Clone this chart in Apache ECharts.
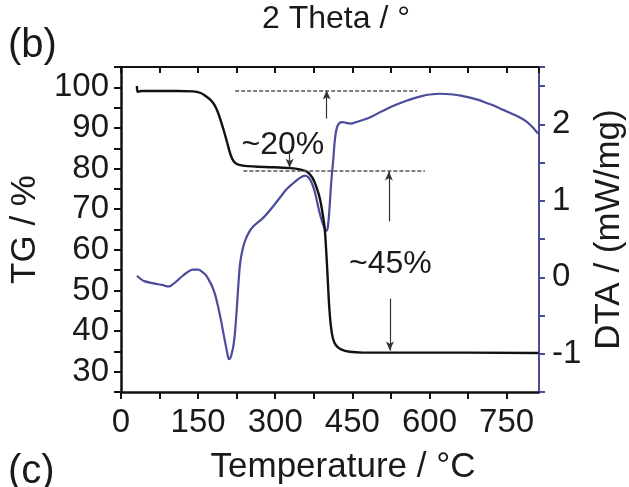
<!DOCTYPE html>
<html>
<head>
<meta charset="utf-8">
<title>TG / DTA</title>
<script src="https://cdn.jsdelivr.net/npm/echarts@6/dist/echarts.min.js"></script>
<style>
  html, body { margin: 0; padding: 0; background: #fff; }
  #chart { width: 629px; height: 487px; }
</style>
</head>
<body>
<div id="chart"></div>
<script>
// temperature (°C) vs mass (%) -- black curve, left axis
var tgData = [
  [31, 100.3], [32, 98.9], [40, 99.1], [70, 99.1], [110, 99.1], [140, 99.0], [155, 98.6],
  [165, 97.8], [175, 96.8], [182, 95.6], [188, 94.0], [194, 91.8], [200, 89.3], [206, 86.6],
  [211, 84.3], [216, 82.5], [222, 81.4], [230, 80.9], [245, 80.6], [280, 80.4], [330, 80.1],
  [350, 79.7], [362, 79.2], [372, 77.8], [380, 75.5], [387, 72.5], [392, 69.0], [396, 65.5],
  [399, 60.0], [402, 53.0], [405, 46.0], [408, 41.5], [412, 38.3], [418, 36.5], [428, 35.5],
  [445, 34.9], [470, 34.7], [600, 34.7], [812, 34.6]
];
// temperature (°C) vs DTA (mW/mg) -- blue curve, right axis
var dtaData = [
  [31, 0.02], [38, -0.02], [45, -0.05], [64, -0.08], [80, -0.10], [93, -0.12], [101, -0.09],
  [110, -0.04], [120, 0.02], [130, 0.07], [140, 0.10], [150, 0.10], [158, 0.07], [166, 0.02],
  [172, -0.05], [178, -0.13], [184, -0.25], [190, -0.42], [195, -0.58], [200, -0.76],
  [204, -0.90], [207, -1.00], [210, -1.07], [213, -1.05], [216, -0.98], [219, -0.88],
  [222, -0.70], [226, -0.33], [229, -0.03], [232, 0.20], [237, 0.38], [242, 0.49], [250, 0.60],
  [258, 0.67], [277, 0.78], [295, 0.92], [310, 1.05], [322, 1.15], [335, 1.23], [348, 1.30],
  [358, 1.33], [364, 1.31], [370, 1.25], [376, 1.14], [381, 1.00], [386, 0.85], [391, 0.73],
  [396, 0.64], [400, 0.61], [403, 0.70], [406, 0.95], [409, 1.25], [413, 1.55], [416, 1.80],
  [420, 1.96], [425, 2.02], [431, 2.03], [438, 2.02], [446, 2.01], [458, 2.03], [472, 2.06],
  [490, 2.11], [504, 2.16], [520, 2.21], [536, 2.26], [552, 2.30], [569, 2.34], [585, 2.37],
  [601, 2.39], [620, 2.40], [646, 2.39], [665, 2.37], [679, 2.35], [695, 2.32], [711, 2.28],
  [727, 2.24], [743, 2.19], [760, 2.14], [776, 2.09], [790, 2.03], [801, 1.96], [811, 1.88]
];
// dashed reference levels (TG %)
var dashLines = [
  [[222, 99.2], [576, 99.2]],
  [[238, 79.5], [591, 79.5]]
];
// arrows [from, to] (TG %)
var arrows = [
  [[400, 92.3], [400, 99.2]],
  [[328, 83.7], [328, 80.2]],
  [[521, 67.0], [521, 79.3]],
  [[523, 48.0], [523, 35.2]]
];
var notes = [[315, 85.8, '~20%'], [524, 56.4, '~45%']];
var tempTicks = [0, 150, 300, 450, 600, 750];

var ink = '#111';
var blue = '#4b4c9a';
var font = 'Liberation Sans, Arial, sans-serif';

var myChart = echarts.init(document.getElementById('chart'));

var markData = [];
dashLines.forEach(function (d) {
  markData.push([{ coord: d[0], symbol: 'none', lineStyle: { type: [4, 2], color: '#555', width: 1.5 } },
                 { coord: d[1], symbol: 'none' }]);
});
arrows.forEach(function (a) {
  markData.push([{ coord: a[0], symbol: 'none', lineStyle: { type: 'solid', color: '#333', width: 1.2 } },
                 { coord: a[1], symbol: 'arrow', symbolSize: [6, 9] }]);
});

var option = {
  animation: false,
  backgroundColor: '#fff',
  textStyle: { fontFamily: font },
  grid: { left: 121, right: 90, top: 67, bottom: 95, outerBoundsMode: 'none', containLabel: false },
  graphic: [
    { type: 'text', left: 8, top: 26, style: { text: '(b)', font: '40px ' + font, fill: '#1a1a1a' } },
    { type: 'text', left: 8, top: 452, style: { text: '(c)', font: '40px ' + font, fill: '#1a1a1a' } },
    { type: 'text', x: 336, y: 3, style: { text: '2 Theta / °', font: '32px ' + font, fill: '#1a1a1a', textAlign: 'center' } }
  ],
  xAxis: [{
    type: 'value', position: 'bottom', min: 0, max: 813, interval: 75,
    name: 'Temperature / °C', nameLocation: 'middle', nameGap: 58,
    nameTextStyle: { fontSize: 35, color: '#1a1a1a', fontFamily: font, padding: [0, 0, 0, 26] },
    axisLine: { onZero: false, lineStyle: { color: ink, width: 2.5 } },
    axisTick: { length: 7, lineStyle: { color: ink, width: 2 } },
    axisLabel: {
      fontSize: 33, color: '#1a1a1a', margin: 14, fontFamily: font, showMaxLabel: false,
      formatter: function (v) { return tempTicks.indexOf(v) >= 0 ? String(v) : ''; }
    },
    splitLine: { show: false }
  }, {
    type: 'value', position: 'top', min: 0, max: 813, interval: 75,
    axisLine: { onZero: false, lineStyle: { color: ink, width: 2 } },
    axisTick: { inside: true, length: 6, lineStyle: { color: ink, width: 2 } },
    axisLabel: { show: false },
    splitLine: { show: false }
  }],
  yAxis: [{
    type: 'value', position: 'left', min: 25, max: 105, interval: 5,
    name: 'TG / %', nameLocation: 'middle', nameGap: 64,
    nameTextStyle: { fontSize: 35, color: '#1a1a1a', fontFamily: font },
    axisLine: { show: true, onZero: false, lineStyle: { color: ink, width: 2.5 } },
    axisTick: { show: true, length: 7, lineStyle: { color: ink, width: 2 } },
    axisLabel: {
      fontSize: 33, color: '#1a1a1a', margin: 12, fontFamily: font,
      formatter: function (v) { return (v % 10 === 0 && v >= 30 && v <= 100) ? String(v) : ''; }
    },
    splitLine: { show: false }
  }, {
    type: 'value', position: 'right', min: -1.5, max: 2.75, interval: 0.5,
    name: 'DTA / (mW/mg)', nameLocation: 'middle', nameGap: 50, nameRotate: 90,
    nameTextStyle: { fontSize: 35, color: '#1a1a1a', fontFamily: font },
    axisLine: { show: true, onZero: false, lineStyle: { color: blue, width: 2 } },
    axisTick: { show: true, length: 6, lineStyle: { color: blue, width: 2 } },
    axisLabel: {
      fontSize: 33, color: '#1a1a1a', margin: 13, fontFamily: font,
      formatter: function (v) { return (Math.abs(v - Math.round(v)) < 1e-6 && v >= -1 && v <= 2) ? String(Math.round(v)) : ''; }
    },
    splitLine: { show: false }
  }],
  series: [{
    name: 'DTA', type: 'line', xAxisIndex: 0, yAxisIndex: 1, data: dtaData,
    showSymbol: false, smooth: 0.4, lineStyle: { color: blue, width: 2.2 }, z: 3
  }, {
    name: 'TG', type: 'line', xAxisIndex: 0, yAxisIndex: 0, data: tgData,
    showSymbol: false, smooth: 0.4, lineStyle: { color: '#111', width: 2.4 }, z: 4
  }, {
    name: 'marks', type: 'line', xAxisIndex: 0, yAxisIndex: 0, data: [],
    markLine: { silent: true, animation: false, label: { show: false }, data: markData }
  }, {
    name: 'notes', type: 'scatter', xAxisIndex: 0, yAxisIndex: 0, symbolSize: 0, silent: true,
    itemStyle: { opacity: 1 },
    data: notes,
    label: {
      show: true, position: 'inside', fontSize: 32, color: '#1a1a1a', fontFamily: font,
      formatter: function (p) { return p.data[2]; }
    }
  }]
};
myChart.setOption(option);
</script>
</body>
</html>
